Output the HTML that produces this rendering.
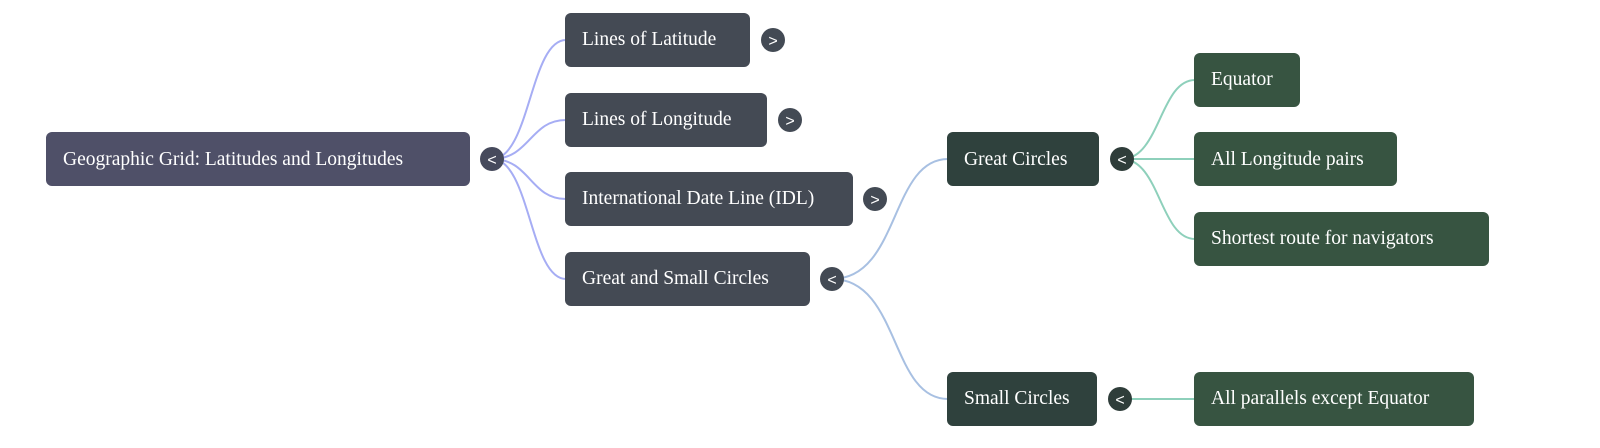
<!DOCTYPE html>
<html><head><meta charset="utf-8"><style>
html,body{margin:0;padding:0;background:#fff;width:1600px;height:448px;overflow:hidden}
text{font-family:"Liberation Serif",serif;font-size:19.5px;fill:#fff}
.b text{font-family:"Liberation Sans",sans-serif;font-size:16px;font-weight:normal;text-anchor:middle}
</style></head><body>
<svg width="1600" height="448" xmlns="http://www.w3.org/2000/svg">
<g fill="none" stroke-width="2">
<g stroke="#a6adf4">
<path d="M492 159 C530 159,530 40,566 40"/>
<path d="M492 159 C530 159,530 120,566 120"/>
<path d="M492 159 C530 159,530 199,566 199"/>
<path d="M492 159 C530 159,530 279,566 279"/>
</g>
<g stroke="#a8c0e2">
<path d="M832 279 C900 279,890 159,948 159"/>
<path d="M832 279 C900 279,890 399,948 399"/>
</g>
<g stroke="#8ed0bb">
<path d="M1122 159 C1160 159,1160 80,1195 80"/>
<path d="M1122 159 L1195 159"/>
<path d="M1122 159 C1160 159,1160 239,1195 239"/>
<path d="M1120 399 L1195 399"/>
</g>
</g>
<rect x="46" y="132" width="424" height="54" rx="6" fill="#4f5068"/>
<text x="63" y="165">Geographic Grid: Latitudes and Longitudes</text>
<g fill="#444a54">
<rect x="565" y="13" width="185" height="54" rx="6"/>
<rect x="565" y="93" width="202" height="54" rx="6"/>
<rect x="565" y="172" width="288" height="54" rx="6"/>
<rect x="565" y="252" width="245" height="54" rx="6"/>
</g>
<text x="582" y="45">Lines of Latitude</text>
<text x="582" y="125">Lines of Longitude</text>
<text x="582" y="204">International Date Line (IDL)</text>
<text x="582" y="284">Great and Small Circles</text>
<g fill="#2f413d">
<rect x="947" y="132" width="152" height="54" rx="6"/>
<rect x="947" y="372" width="150" height="54" rx="6"/>
</g>
<text x="964" y="165">Great Circles</text>
<text x="964" y="404">Small Circles</text>
<g fill="#375441">
<rect x="1194" y="53" width="106" height="54" rx="6"/>
<rect x="1194" y="132" width="203" height="54" rx="6"/>
<rect x="1194" y="212" width="295" height="54" rx="6"/>
<rect x="1194" y="372" width="280" height="54" rx="6"/>
</g>
<text x="1211" y="85">Equator</text>
<text x="1211" y="165">All Longitude pairs</text>
<text x="1211" y="244">Shortest route for navigators</text>
<text x="1211" y="404">All parallels except Equator</text>
<g class="b">
<circle cx="492" cy="159" r="12" fill="#464a5c"/><text x="492" y="165">&lt;</text>
<circle cx="773" cy="40" r="12" fill="#434a54"/><text x="773" y="46">&gt;</text>
<circle cx="790" cy="120" r="12" fill="#434a54"/><text x="790" y="126">&gt;</text>
<circle cx="875" cy="199" r="12" fill="#434a54"/><text x="875" y="205">&gt;</text>
<circle cx="832" cy="279" r="12" fill="#434a54"/><text x="832" y="285">&lt;</text>
<circle cx="1122" cy="159" r="12" fill="#2f3d3a"/><text x="1122" y="165">&lt;</text>
<circle cx="1120" cy="399" r="12" fill="#2f3d3a"/><text x="1120" y="405">&lt;</text>
</g>
</svg>
</body></html>
